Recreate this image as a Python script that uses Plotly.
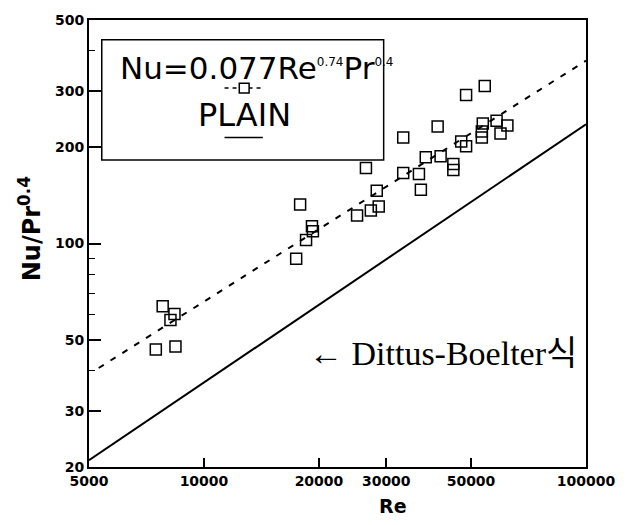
import math
import plotly.graph_objects as go

# Measured heat-transfer data (plain tube): Reynolds number and Nu/Pr^0.4
re_data = [7795, 8370, 8170, 7480, 8420,
           17430, 17850, 18500, 19170, 19280,
           25160, 27340, 28670, 28330, 26540,
           33230, 33230, 36530, 36960, 38070,
           41630, 40890, 44950, 44950, 47130,
           48540, 53370, 53370, 48540, 54320,
           53680, 58330, 62260, 59730]
nu_data = [63.7, 60.2, 57.6, 46.6, 47.6,
           89.6, 132.4, 102.5, 113.2, 109.3,
           122.4, 126.9, 130.5, 146.2, 172.2,
           214.6, 166.2, 165.0, 147.3, 186.2,
           187.6, 232.1, 177.2, 169.8, 208.6,
           201.3, 214.6, 224.0, 291.3, 310.6,
           237.1, 242.2, 233.8, 220.9]

# Correlation line Nu = 0.077 Re^0.74 Pr^0.4 (end points)
fit_re = [5300, 100000]
fit_nu = [40.8, 373]

# Dittus-Boelter line (end points)
db_re = [5000, 100000]
db_nu = [21.0, 236]

x_ticks = [5000, 10000, 20000, 30000, 50000, 100000]
x_labels = ["5000", "10000", "20000", "30000", "50000", "100000"]
y_ticks = [20, 30, 50, 100, 200, 300, 500]
y_labels = ["20", "30", "50", "100", "200", "300", "500"]
y_minor = [40, 60, 70, 80, 90, 400]

W, H = 627, 525
L, R, T, B = 89, 32, 14, 58
PW, PH = W - L - R, H - T - B


def px(xp):
    return (xp - L) / PW


def py(yp):
    return (H - B - yp) / PH


fig = go.Figure()
fig.add_trace(go.Scatter(x=db_re, y=db_nu, mode="lines",
                         line=dict(color="black", width=2), showlegend=False))
fig.add_trace(go.Scatter(x=fit_re, y=fit_nu, mode="lines",
                         line=dict(color="black", width=2, dash="6px,8px"),
                         showlegend=False))
fig.add_trace(go.Scatter(x=re_data, y=nu_data, mode="markers",
                         marker=dict(symbol="square-open", size=11, color="black",
                                     line=dict(width=1.5, color="black")),
                         showlegend=False))
# invisible trace that carries the long major-tick axis
fig.add_trace(go.Scatter(x=[db_re[0]], y=[db_nu[0]], yaxis="y2", mode="markers",
                         marker=dict(opacity=0), hoverinfo="skip", showlegend=False))

tick_font = dict(family="DejaVu Sans", size=14, color="black", weight="bold")
y_range = [math.log10(20), math.log10(500)]

# main y axis: labels plus short ticks at every tick position (major + minor)
all_y = y_ticks + y_minor
all_y_text = y_labels + [""] * len(y_minor)

fig.update_layout(
    width=W, height=H,
    margin=dict(l=L, r=R, t=T, b=B),
    paper_bgcolor="white", plot_bgcolor="white",
    xaxis=dict(type="log", range=[math.log10(5000), 5],
               tickmode="array", tickvals=x_ticks, ticktext=x_labels,
               ticks="inside", ticklen=9, tickwidth=1.5, tickcolor="black",
               showline=True, linewidth=2, linecolor="black", mirror=True,
               showgrid=False, zeroline=False, tickfont=tick_font,
               ticklabelstandoff=0),
    yaxis=dict(type="log", range=y_range,
               tickmode="array", tickvals=all_y, ticktext=all_y_text,
               ticks="inside", ticklen=6, tickwidth=1.3, tickcolor="black",
               showline=True, linewidth=2, linecolor="black", mirror=True,
               showgrid=False, zeroline=False, tickfont=tick_font),
    yaxis2=dict(type="log", range=y_range, overlaying="y", side="left", anchor="x",
                tickmode="array", tickvals=y_ticks, showticklabels=False,
                ticks="inside", ticklen=12, tickwidth=1.5, tickcolor="black",
                showline=False, showgrid=False, zeroline=False),
)

# Axis titles
fig.add_annotation(xref="paper", yref="paper", x=px(399), y=py(507),
                   xanchor="center", yanchor="middle", showarrow=False,
                   text="Re",
                   font=dict(family="DejaVu Sans", size=19, color="black", weight="bold"))
fig.add_annotation(xref="paper", yref="paper", x=px(29), y=py(226),
                   xanchor="center", yanchor="middle", showarrow=False,
                   textangle=-90, text="Nu/Pr<sup>0.4</sup>",
                   font=dict(family="DejaVu Sans", size=24, color="black", weight="bold"))

# Key box in the upper left
fig.add_shape(type="rect", xref="paper", yref="paper",
              x0=px(102), x1=px(389), y0=py(156), y1=py(34),
              line=dict(color="black", width=1.5))
fig.add_annotation(xref="paper", yref="paper", x=px(119), y=py(63),
                   xanchor="left", yanchor="middle", showarrow=False,
                   text="Nu=0.077Re<sup><span style='font-size:12px'>0.74</span></sup>"
                        "Pr<sup><span style='font-size:12px'>0.4</span></sup>",
                   font=dict(family="DejaVu Sans", size=31, color="black"))
fig.add_shape(type="line", xref="paper", yref="paper",
              x0=px(227), x1=px(266), y0=py(83), y1=py(83),
              line=dict(color="black", width=1.5, dash="4px,4px"))
fig.add_shape(type="rect", xref="paper", yref="paper",
              x0=px(242), x1=px(252), y0=py(88), y1=py(78),
              line=dict(color="black", width=1.5), fillcolor="white")
fig.add_annotation(xref="paper", yref="paper", x=px(247), y=py(110),
                   xanchor="center", yanchor="middle", showarrow=False,
                   text="PLAIN",
                   font=dict(family="DejaVu Sans", size=32, color="black"))
fig.add_shape(type="line", xref="paper", yref="paper",
              x0=px(227), x1=px(266), y0=py(133), y1=py(133),
              line=dict(color="black", width=1.5))

# Label for the Dittus-Boelter line
fig.add_annotation(xref="paper", yref="paper", x=px(311), y=py(352),
                   xanchor="left", yanchor="middle", showarrow=False,
                   text="← Dittus-Boelter식",
                   font=dict(family="Liberation Serif, Noto Sans CJK KR", size=34,
                             color="black"))

fig.write_html("out.html")
